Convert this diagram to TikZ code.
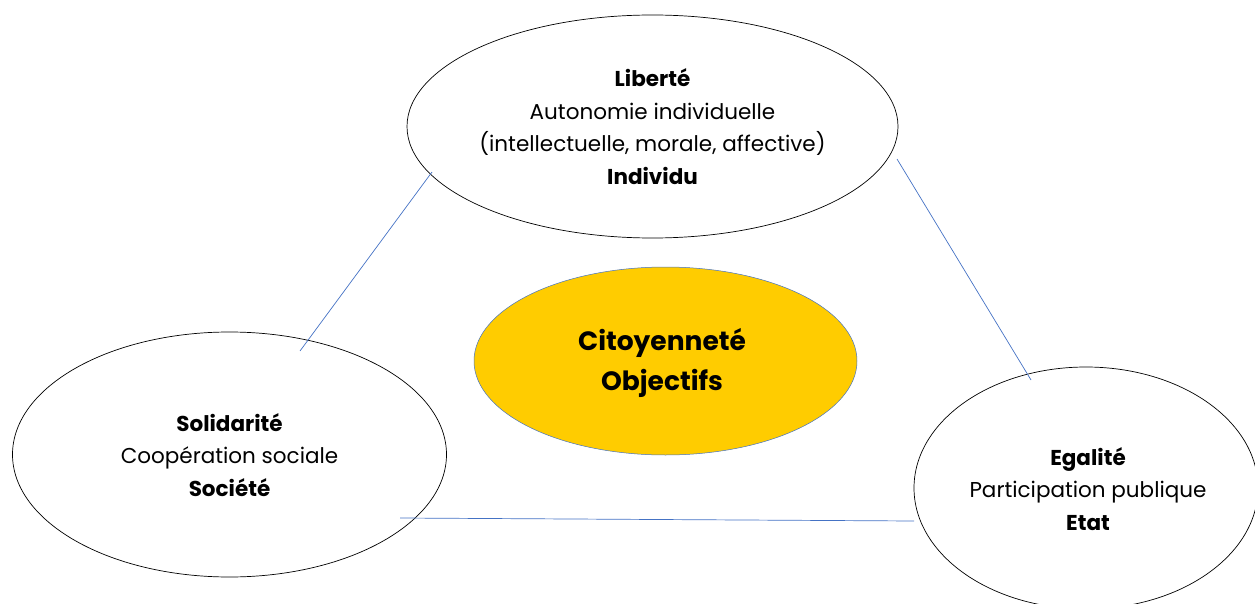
\documentclass[tikz,border=0pt]{standalone}
\usepackage{fontspec}
\setmainfont{Poppins}
\usetikzlibrary{shapes.geometric}
\definecolor{lineblue}{HTML}{4472C4}
\definecolor{gold}{HTML}{FFCC00}
\begin{document}
\begin{tikzpicture}[x=1pt,y=-1pt,
  bubble/.style={ellipse, draw=black, line width=0.7pt, inner sep=0pt},
  label/.style={align=center, font=\fontsize{21.5}{32.5}\selectfont},
  link/.style={draw=lineblue, line width=0.7pt}]
\useasboundingbox (0,0) rectangle (1255,604);
\node[bubble, minimum width=491pt, minimum height=223pt] (top) at (652.5,126.5) {};
\node[bubble, minimum width=434pt, minimum height=245pt] (left) at (229.5,454.5) {};
\node[bubble, minimum width=344pt, minimum height=242pt] (right) at (1086,488) {};
\node[ellipse, draw=lineblue, line width=0.5pt, fill=gold, inner sep=0pt,
      minimum width=383pt, minimum height=188pt] (center) at (665.5,361) {};
\node[label] (toptext) at (652.5,126.5) {\textbf{Liberté}\\Autonomie individuelle\\(intellectuelle, morale, affective)\\\textbf{Individu}};
\node[label] (lefttext) at (229.5,455) {\textbf{Solidarité}\\Coopération sociale\\\textbf{Société}};
\node[label] (righttext) at (1088,489) {\textbf{Egalité}\\Participation publique\\\textbf{Etat}};
\node[align=center, font=\fontsize{26.5}{40}\selectfont\bfseries] (ctext) at (662,363) {Citoyenneté\\Objectifs};
\coordinate (l1a) at (300,351);
\coordinate (l1b) at (432,172);
\coordinate (l2a) at (897,159);
\coordinate (l2b) at (1031,380);
\coordinate (l3a) at (400,518);
\coordinate (l3b) at (914,521);
\draw[link] (l1a) -- (l1b);
\draw[link] (l2a) -- (l2b);
\draw[link] (l3a) -- (l3b);
\end{tikzpicture}
\end{document}
